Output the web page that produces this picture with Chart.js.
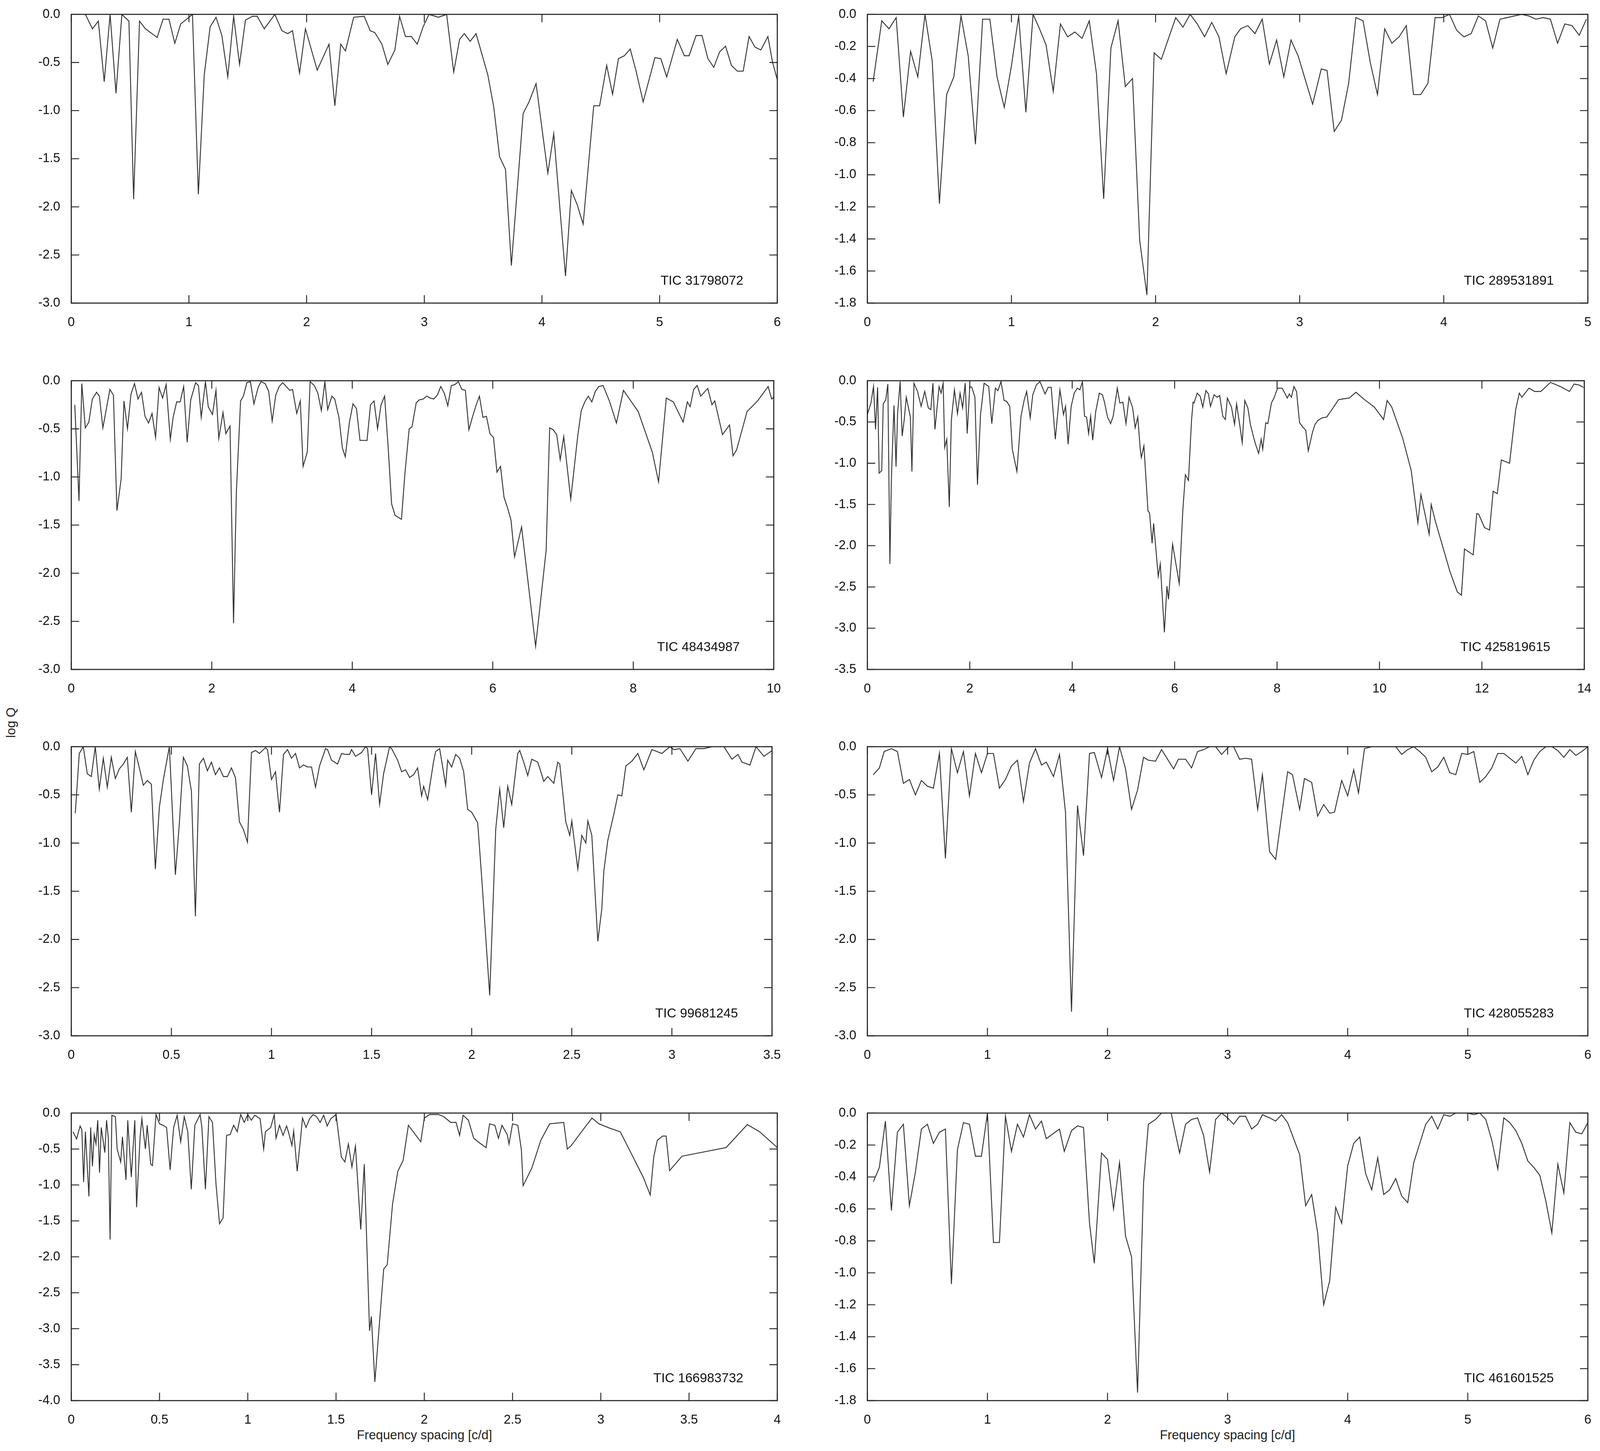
<!DOCTYPE html>
<html>
<head>
<meta charset="utf-8">
<script src="https://cdn.jsdelivr.net/npm/chart.js@4.4.0/dist/chart.umd.min.js"></script>
<style>
  html, body { margin: 0; padding: 0; background: #fff; overflow: hidden; font-family: "Liberation Sans", Arial, sans-serif; }
  canvas { position: absolute; }
  .lbl { position: absolute; color: #222; white-space: nowrap; }
</style>
</head>
<body>
<script>
// TIC 31798072
const x1 = [0,0.12,0.18,0.23,0.28,0.33,0.38,0.43,0.49,0.53,0.58,0.63,0.73,0.78,0.83,0.88,0.93,1.03,1.08,1.13,1.18,1.23,1.28,1.33,1.38,1.43,1.48,1.54,1.58,1.64,1.73,1.79,1.84,1.88,1.94,1.99,2.09,2.19,2.24,2.29,2.33,2.40,2.49,2.54,2.58,2.64,2.69,2.75,2.79,2.84,2.89,2.94,2.99,3.04,3.12,3.19,3.25,3.30,3.34,3.39,3.44,3.54,3.59,3.64,3.69,3.74,3.84,3.89,3.95,4.05,4.10,4.20,4.25,4.30,4.35,4.44,4.49,4.55,4.60,4.65,4.70,4.75,4.80,4.86,4.96,5.01,5.06,5.15,5.21,5.25,5.31,5.36,5.41,5.46,5.51,5.56,5.61,5.66,5.71,5.76,5.81,5.86,5.92,5.96,6.0];
const y1 = [0,0,-0.15,-0.07,-0.70,0,-0.82,0,-0.07,-1.92,-0.07,-0.15,-0.24,-0.05,-0.05,-0.30,-0.10,0,-1.87,-0.63,-0.13,-0.03,-0.22,-0.65,-0.02,-0.52,-0.06,-0.02,-0.02,-0.15,0,-0.17,-0.20,-0.17,-0.61,-0.15,-0.58,-0.31,-0.95,-0.31,-0.38,-0.03,-0.02,-0.17,-0.19,-0.31,-0.52,-0.37,-0.02,-0.23,-0.23,-0.31,-0.13,0,-0.03,0,-0.60,-0.26,-0.20,-0.28,-0.20,-0.63,-0.96,-1.48,-1.61,-2.61,-1.03,-0.91,-0.72,-1.65,-1.24,-2.72,-1.83,-1.98,-2.18,-0.95,-0.95,-0.53,-0.83,-0.46,-0.43,-0.36,-0.59,-0.91,-0.45,-0.46,-0.65,-0.26,-0.43,-0.43,-0.22,-0.22,-0.46,-0.55,-0.39,-0.33,-0.53,-0.59,-0.59,-0.23,-0.34,-0.37,-0.23,-0.50,-0.68];

// TIC 289531891
const x2 = [0.04,0.10,0.15,0.20,0.25,0.30,0.35,0.40,0.45,0.50,0.55,0.60,0.65,0.70,0.75,0.80,0.85,0.90,0.95,1.00,1.05,1.10,1.15,1.19,1.24,1.29,1.34,1.39,1.44,1.49,1.54,1.59,1.64,1.69,1.74,1.79,1.84,1.89,1.94,1.99,2.04,2.09,2.14,2.19,2.24,2.29,2.34,2.39,2.44,2.49,2.55,2.59,2.64,2.69,2.74,2.79,2.84,2.89,2.94,2.99,3.04,3.09,3.15,3.19,3.24,3.29,3.34,3.39,3.44,3.49,3.54,3.59,3.64,3.69,3.74,3.79,3.84,3.89,3.94,3.99,4.04,4.09,4.14,4.19,4.24,4.29,4.34,4.39,4.44,4.49,4.54,4.59,4.64,4.69,4.74,4.79,4.84,4.89,4.94,4.99];
const y2 = [-0.42,-0.04,-0.09,-0.02,-0.64,-0.23,-0.39,0,-0.29,-1.18,-0.50,-0.39,-0.01,-0.26,-0.81,-0.03,-0.03,-0.39,-0.58,-0.32,-0.01,-0.61,0,-0.08,-0.19,-0.48,-0.06,-0.14,-0.11,-0.15,-0.04,-0.37,-1.15,-0.21,-0.04,-0.45,-0.40,-1.41,-1.75,-0.24,-0.28,-0.15,-0.02,-0.08,0,-0.06,-0.14,-0.05,-0.14,-0.37,-0.14,-0.09,-0.07,-0.12,-0.03,-0.31,-0.16,-0.39,-0.16,-0.26,-0.41,-0.56,-0.34,-0.35,-0.73,-0.66,-0.43,-0.02,-0.04,-0.30,-0.50,-0.09,-0.18,-0.14,-0.07,-0.50,-0.50,-0.43,-0.02,-0.02,0,-0.10,-0.14,-0.12,-0.01,-0.04,-0.21,-0.03,-0.02,-0.01,0,-0.01,-0.03,-0.02,-0.03,-0.18,-0.06,-0.07,-0.13,-0.03];

// TIC 48434987
const x3 = [0.05,0.11,0.15,0.20,0.25,0.30,0.36,0.40,0.45,0.55,0.60,0.65,0.71,0.75,0.80,0.85,0.90,0.95,1.00,1.05,1.10,1.15,1.20,1.25,1.30,1.35,1.41,1.45,1.50,1.55,1.60,1.65,1.70,1.77,1.81,1.85,1.91,1.95,2.01,2.06,2.10,2.16,2.20,2.26,2.31,2.35,2.41,2.45,2.50,2.55,2.60,2.66,2.70,2.76,2.81,2.86,2.91,2.96,3.01,3.06,3.11,3.15,3.21,3.26,3.30,3.36,3.40,3.46,3.51,3.56,3.61,3.65,3.71,3.75,3.81,3.86,3.90,3.96,4.01,4.06,4.11,4.16,4.21,4.26,4.31,4.36,4.41,4.46,4.51,4.56,4.61,4.70,4.75,4.81,4.85,4.91,4.95,5.01,5.06,5.11,5.16,5.21,5.26,5.31,5.36,5.41,5.46,5.51,5.56,5.61,5.66,5.71,5.76,5.81,5.86,5.91,5.96,6.01,6.06,6.11,6.16,6.21,6.26,6.31,6.41,6.61,6.76,6.81,6.86,6.91,6.96,7.01,7.11,7.16,7.21,7.26,7.31,7.36,7.41,7.46,7.51,7.57,7.66,7.76,7.86,8.07,8.27,8.36,8.47,8.57,8.71,8.77,8.81,8.86,8.91,8.96,9.06,9.12,9.16,9.27,9.37,9.42,9.47,9.62,9.77,9.92,9.97,10];
const y3 = [-0.25,-1.25,-0.03,-0.49,-0.43,-0.19,-0.12,-0.16,-0.49,-0.09,-0.15,-1.35,-1.02,-0.21,-0.50,-0.14,-0.03,-0.19,-0.12,-0.37,-0.44,-0.34,-0.59,-0.07,-0.18,-0.04,-0.61,-0.38,-0.22,-0.22,-0.06,-0.64,-0.20,-0.02,-0.05,-0.38,-0.01,-0.27,-0.35,-0.10,-0.60,-0.33,-0.55,-0.47,-2.52,-1.16,-0.21,-0.16,-0.02,-0.01,-0.24,-0.07,-0.01,-0.03,-0.11,-0.42,-0.15,-0.06,-0.02,-0.06,-0.10,-0.09,-0.34,-0.21,-0.89,-0.74,-0.01,-0.05,-0.13,-0.31,-0.01,-0.30,-0.16,-0.19,-0.38,-0.70,-0.79,-0.43,-0.24,-0.29,-0.62,-0.62,-0.62,-0.25,-0.21,-0.50,-0.25,-0.16,-0.68,-1.28,-1.40,-1.44,-0.96,-0.50,-0.48,-0.23,-0.20,-0.19,-0.16,-0.18,-0.19,-0.15,-0.06,-0.13,-0.26,-0.05,-0.04,-0.01,-0.09,-0.10,-0.51,-0.38,-0.26,-0.16,-0.38,-0.37,-0.55,-0.59,-0.95,-0.89,-1.21,-1.32,-1.45,-1.83,-1.52,-2.76,-1.76,-0.49,-0.51,-0.56,-0.82,-0.58,-1.23,-0.90,-0.57,-0.31,-0.22,-0.16,-0.22,-0.11,-0.06,-0.05,-0.21,-0.44,-0.10,-0.32,-0.74,-1.05,-0.18,-0.22,-0.43,-0.22,-0.27,-0.09,-0.05,-0.16,-0.08,-0.25,-0.21,-0.56,-0.46,-0.78,-0.72,-0.32,-0.21,-0.06,-0.19,-0.17];

// TIC 425819615
const x4 = [0,0.07,0.12,0.16,0.20,0.23,0.28,0.31,0.36,0.40,0.44,0.47,0.52,0.56,0.59,0.64,0.68,0.72,0.76,0.84,0.87,0.91,0.98,1.05,1.12,1.19,1.24,1.28,1.32,1.37,1.40,1.44,1.48,1.51,1.55,1.60,1.64,1.70,1.76,1.81,1.86,1.91,1.95,2.00,2.04,2.10,2.15,2.21,2.28,2.37,2.43,2.50,2.55,2.61,2.67,2.72,2.78,2.83,2.92,3.00,3.06,3.11,3.18,3.23,3.30,3.37,3.47,3.53,3.59,3.67,3.76,3.83,3.87,3.92,3.98,4.04,4.10,4.15,4.20,4.24,4.28,4.32,4.36,4.40,4.46,4.53,4.59,4.63,4.69,4.75,4.80,4.88,4.93,4.99,5.05,5.11,5.18,5.23,5.28,5.33,5.35,5.40,5.48,5.51,5.56,5.59,5.68,5.72,5.80,5.85,5.88,5.96,6.09,6.16,6.21,6.27,6.33,6.36,6.38,6.44,6.50,6.55,6.61,6.66,6.70,6.77,6.83,6.88,6.94,6.99,7.03,7.11,7.17,7.21,7.27,7.32,7.37,7.43,7.48,7.54,7.58,7.64,7.69,7.72,7.78,7.82,7.89,7.94,8.01,8.10,8.20,8.24,8.28,8.33,8.38,8.44,8.50,8.56,8.61,8.69,8.74,8.80,8.88,8.97,9.06,9.20,9.29,9.41,9.54,9.71,9.90,10.08,10.15,10.24,10.45,10.62,10.75,10.81,10.97,11.01,11.09,11.38,11.52,11.60,11.66,11.83,11.90,11.94,12.05,12.15,12.22,12.30,12.38,12.54,12.66,12.73,12.78,12.92,13.03,13.15,13.34,13.53,13.71,13.80,13.89,13.98];
const y4 = [-0.41,-0.27,-0.07,-0.59,-0.08,-1.12,-1.09,-0.28,-0.23,-0.04,-2.22,-1.17,-0.30,-1.04,-0.40,-0.01,-0.67,-0.47,-0.20,-0.44,-1.10,-0.03,-0.13,-0.31,-0.13,-0.33,-0.35,-0.03,-0.59,-0.27,-0.07,-0.15,-0.03,-0.81,-0.71,-1.53,-0.48,-0.11,-0.40,-0.15,-0.33,-0.03,-0.64,-0.07,-0.08,-0.20,-1.26,-0.41,-0.03,-0.07,-0.52,-0.09,-0.12,-0.01,-0.24,-0.25,-0.31,-0.83,-1.10,-0.43,-0.24,-0.13,-0.45,-0.17,-0.05,-0.01,-0.16,-0.08,-0.08,-0.71,-0.11,-0.41,-0.31,-0.77,-0.31,-0.15,-0.09,-0.11,-0.01,-0.43,-0.44,-0.64,-0.43,-0.72,-0.37,-0.15,-0.17,-0.26,-0.44,-0.52,-0.43,-0.09,-0.27,-0.26,-0.52,-0.20,-0.33,-0.57,-0.44,-0.84,-0.93,-0.79,-1.58,-1.60,-1.97,-1.73,-2.37,-2.22,-3.05,-2.49,-2.65,-1.98,-2.46,-1.57,-1.14,-1.21,-0.48,-0.26,-0.27,-0.15,-0.19,-0.32,-0.12,-0.16,-0.31,-0.17,-0.20,-0.18,-0.43,-0.47,-0.21,-0.32,-0.53,-0.28,-0.53,-0.75,-0.24,-0.33,-0.53,-0.68,-0.77,-0.88,-0.71,-0.83,-0.51,-0.52,-0.27,-0.21,-0.09,-0.09,-0.21,-0.16,-0.20,-0.07,-0.13,-0.51,-0.56,-0.60,-0.85,-0.63,-0.53,-0.48,-0.45,-0.44,-0.36,-0.23,-0.22,-0.21,-0.14,-0.23,-0.32,-0.47,-0.24,-0.32,-0.69,-1.09,-1.72,-1.38,-1.86,-1.50,-1.70,-2.32,-2.56,-2.60,-2.04,-2.11,-1.61,-1.62,-1.78,-1.81,-1.34,-1.37,-0.96,-1.00,-0.35,-0.15,-0.20,-0.09,-0.13,-0.13,-0.02,-0.07,-0.13,-0.04,-0.05,-0.08];

// TIC 99681245
const x5 = [0.02,0.04,0.06,0.08,0.10,0.12,0.14,0.16,0.18,0.20,0.22,0.24,0.26,0.28,0.30,0.32,0.34,0.36,0.38,0.40,0.42,0.44,0.46,0.49,0.52,0.54,0.56,0.58,0.60,0.62,0.64,0.66,0.68,0.70,0.72,0.74,0.76,0.78,0.80,0.82,0.84,0.86,0.88,0.90,0.92,0.94,0.97,0.98,1.00,1.02,1.04,1.06,1.08,1.10,1.12,1.14,1.16,1.18,1.20,1.22,1.24,1.27,1.28,1.30,1.33,1.35,1.37,1.39,1.40,1.42,1.45,1.47,1.48,1.50,1.52,1.54,1.56,1.59,1.60,1.63,1.65,1.67,1.69,1.71,1.73,1.75,1.76,1.78,1.81,1.82,1.84,1.87,1.88,1.90,1.92,1.94,1.96,1.98,2.00,2.03,2.05,2.09,2.12,2.14,2.16,2.18,2.20,2.23,2.24,2.26,2.28,2.30,2.33,2.35,2.36,2.38,2.41,2.43,2.44,2.47,2.49,2.50,2.53,2.55,2.57,2.58,2.60,2.63,2.65,2.66,2.68,2.71,2.73,2.75,2.77,2.80,2.83,2.86,2.90,2.95,2.99,3.01,3.04,3.08,3.12,3.16,3.20,3.26,3.30,3.33,3.35,3.39,3.42,3.46,3.5];
const y5 = [-0.69,-0.07,0,-0.28,-0.31,0,-0.44,-0.12,-0.42,-0.11,-0.33,-0.23,-0.18,-0.11,-0.68,-0.05,-0.22,-0.40,-0.35,-0.39,-1.27,-0.63,-0.34,0,-1.33,-0.79,-0.11,-0.20,-0.46,-1.76,-0.18,-0.12,-0.25,-0.16,-0.29,-0.22,-0.31,-0.31,-0.22,-0.32,-0.78,-0.86,-0.99,-0.06,-0.04,-0.07,-0.01,-0.03,-0.34,-0.26,-0.68,-0.08,-0.03,-0.12,-0.07,-0.22,-0.19,-0.21,-0.21,-0.42,-0.20,-0.02,-0.03,-0.14,-0.18,-0.07,-0.08,-0.08,-0.03,-0.10,-0.06,0,-0.02,-0.50,-0.07,-0.60,-0.28,0,-0.02,-0.14,-0.26,-0.24,-0.32,-0.29,-0.22,-0.51,-0.41,-0.55,-0.15,-0.05,-0.02,-0.40,-0.14,-0.21,-0.08,-0.12,-0.26,-0.65,-0.68,-0.79,-1.36,-2.58,-0.86,-0.44,-0.84,-0.41,-0.60,-0.07,-0.04,-0.16,-0.30,-0.13,-0.16,-0.29,-0.36,-0.31,-0.38,-0.16,-0.18,-0.78,-0.92,-0.77,-1.27,-0.92,-1.00,-0.77,-0.92,-2.02,-1.68,-1.29,-0.97,-0.70,-0.50,-0.51,-0.20,-0.15,-0.07,-0.24,-0.03,-0.07,0,-0.03,-0.02,-0.15,-0.02,-0.02,0,0,-0.13,-0.08,-0.16,-0.19,0,-0.10,-0.04];

// TIC 428055283
const x6 = [0.05,0.10,0.14,0.20,0.25,0.30,0.35,0.40,0.45,0.50,0.55,0.60,0.65,0.70,0.75,0.80,0.85,0.90,0.95,1.00,1.05,1.10,1.15,1.20,1.25,1.30,1.35,1.40,1.45,1.49,1.55,1.60,1.65,1.70,1.75,1.80,1.85,1.89,1.95,2.00,2.05,2.10,2.15,2.20,2.25,2.30,2.34,2.40,2.45,2.50,2.55,2.59,2.65,2.70,2.75,2.80,2.85,2.90,2.95,3.01,3.05,3.10,3.15,3.20,3.25,3.29,3.35,3.40,3.50,3.54,3.60,3.64,3.70,3.75,3.80,3.85,3.89,3.95,4.00,4.05,4.09,4.14,4.20,4.40,4.45,4.50,4.55,4.60,4.65,4.70,4.75,4.80,4.85,4.90,4.95,5.00,5.05,5.10,5.15,5.20,5.25,5.30,5.35,5.40,5.45,5.50,5.55,5.60,5.65,5.70,5.75,5.80,5.85,5.90,5.95,6];
const y6 = [-0.29,-0.22,-0.05,-0.02,-0.05,-0.38,-0.34,-0.50,-0.35,-0.41,-0.43,-0.07,-1.16,-0.02,-0.27,-0.05,-0.51,-0.07,-0.27,-0.07,-0.07,-0.43,-0.34,-0.20,-0.14,-0.57,-0.17,-0.02,-0.19,-0.16,-0.31,-0.08,-0.68,-2.75,-0.61,-1.13,-0.07,-0.06,-0.32,-0.02,-0.35,0,-0.23,-0.65,-0.45,-0.11,-0.14,-0.15,-0.03,-0.13,-0.23,-0.13,-0.13,-0.22,-0.05,-0.03,0,0,-0.08,0,0,-0.13,-0.12,-0.13,-0.65,-0.29,-1.09,-1.17,-0.26,-0.29,-0.65,-0.33,-0.37,-0.72,-0.60,-0.69,-0.68,-0.35,-0.51,-0.24,-0.48,-0.02,0,0,-0.08,-0.03,0,-0.05,-0.11,-0.26,-0.21,-0.11,-0.27,-0.29,-0.07,-0.08,-0.05,-0.37,-0.31,-0.22,-0.07,-0.07,-0.12,-0.17,-0.10,-0.29,-0.14,-0.05,0,0,-0.04,-0.11,-0.03,-0.09,-0.05,0];

// TIC 166983732
const x7 = [0.01,0.03,0.05,0.06,0.07,0.08,0.10,0.11,0.12,0.13,0.14,0.15,0.16,0.17,0.19,0.20,0.21,0.22,0.23,0.25,0.26,0.28,0.29,0.31,0.32,0.34,0.36,0.37,0.39,0.40,0.42,0.43,0.45,0.46,0.48,0.50,0.52,0.54,0.56,0.58,0.60,0.62,0.64,0.66,0.68,0.70,0.73,0.74,0.76,0.78,0.80,0.82,0.84,0.86,0.88,0.90,0.92,0.94,0.96,0.98,1.00,1.02,1.04,1.07,1.09,1.10,1.13,1.15,1.16,1.18,1.20,1.22,1.23,1.25,1.26,1.28,1.30,1.31,1.33,1.35,1.37,1.39,1.41,1.43,1.45,1.47,1.50,1.53,1.55,1.57,1.59,1.61,1.64,1.66,1.69,1.70,1.72,1.74,1.77,1.79,1.82,1.85,1.88,1.91,1.98,2.00,2.03,2.08,2.11,2.15,2.18,2.20,2.22,2.25,2.28,2.31,2.35,2.37,2.40,2.42,2.44,2.47,2.48,2.50,2.53,2.55,2.56,2.61,2.66,2.71,2.79,2.81,2.83,2.90,2.95,2.99,3.05,3.11,3.17,3.24,3.28,3.30,3.32,3.35,3.37,3.39,3.46,3.71,3.83,3.90,4];
const y7 = [-0.26,-0.36,-0.18,-0.23,-0.96,-0.26,-1.16,-0.20,-0.74,-0.30,-0.43,-0.10,-0.83,-0.20,-0.55,-0.10,-0.35,-1.76,-0.03,-0.05,-0.50,-0.68,-0.33,-0.93,-0.10,-0.89,-0.10,-1.31,-0.33,-0.08,-0.50,-0.17,-0.71,-0.73,-0.02,-0.15,-0.17,-0.20,-0.79,-0.20,-0.03,-0.40,-0.05,-0.26,-1.06,-0.17,-0.02,-0.20,-1.06,-0.05,-0.13,-0.99,-1.54,-1.46,-0.31,-0.30,-0.17,-0.26,-0.02,-0.13,-0.02,-0.10,-0.03,-0.08,-0.50,-0.26,-0.20,-0.02,-0.35,-0.17,-0.31,-0.18,-0.26,-0.45,-0.25,-0.81,-0.33,-0.07,-0.20,-0.08,-0.02,-0.05,-0.13,-0.03,-0.18,-0.08,-0.02,-0.61,-0.68,-0.43,-0.75,-0.46,-1.62,-0.71,-3.03,-2.83,-3.74,-3.11,-2.17,-2.11,-1.27,-0.81,-0.66,-0.17,-0.40,-0.07,-0.02,-0.02,-0.05,-0.13,-0.13,-0.31,-0.03,-0.10,-0.35,-0.41,-0.48,-0.15,-0.17,-0.35,-0.17,-0.30,-0.43,-0.15,-0.17,-0.51,-1.01,-0.76,-0.38,-0.15,-0.13,-0.50,-0.46,-0.23,-0.07,-0.15,-0.21,-0.26,-0.55,-0.89,-1.14,-0.61,-0.38,-0.32,-0.32,-0.80,-0.60,-0.48,-0.16,-0.26,-0.48];

// TIC 461601525
const x8 = [0.05,0.10,0.15,0.20,0.25,0.30,0.35,0.40,0.45,0.50,0.55,0.60,0.65,0.70,0.75,0.80,0.85,0.90,0.95,1.00,1.05,1.10,1.15,1.20,1.25,1.30,1.35,1.40,1.45,1.49,1.60,1.64,1.70,1.75,1.80,1.85,1.89,1.95,2.00,2.05,2.10,2.15,2.20,2.25,2.30,2.34,2.40,2.45,2.53,2.60,2.65,2.70,2.75,2.80,2.85,2.90,2.95,3.00,3.05,3.10,3.15,3.20,3.25,3.29,3.35,3.40,3.45,3.50,3.55,3.60,3.65,3.70,3.75,3.80,3.85,3.90,3.95,4.00,4.05,4.10,4.15,4.20,4.25,4.30,4.35,4.40,4.45,4.50,4.55,4.60,4.65,4.70,4.75,4.80,4.85,4.90,5.00,5.05,5.10,5.15,5.20,5.25,5.30,5.35,5.40,5.45,5.50,5.55,5.60,5.65,5.70,5.75,5.80,5.85,5.90,5.95,6];
const y8 = [-0.43,-0.34,-0.05,-0.61,-0.12,-0.07,-0.58,-0.37,-0.10,-0.07,-0.19,-0.12,-0.10,-1.07,-0.23,-0.06,-0.07,-0.27,-0.27,0,-0.81,-0.81,-0.02,-0.24,-0.07,-0.15,-0.01,-0.10,-0.05,-0.16,-0.10,-0.24,-0.11,-0.08,-0.09,-0.69,-0.94,-0.25,-0.29,-0.60,-0.31,-0.77,-0.90,-1.75,-0.44,-0.07,-0.04,0,0,-0.25,-0.07,-0.04,-0.03,-0.14,-0.37,-0.04,0,-0.03,-0.07,-0.02,-0.02,-0.10,-0.07,-0.01,-0.03,-0.05,-0.01,-0.06,-0.16,-0.26,-0.58,-0.51,-0.75,-1.20,-1.05,-0.59,-0.69,-0.33,-0.19,-0.15,-0.38,-0.48,-0.28,-0.51,-0.48,-0.41,-0.52,-0.56,-0.31,-0.19,-0.07,-0.02,-0.10,-0.01,-0.02,0,0,-0.01,0,-0.04,-0.17,-0.35,-0.03,-0.06,-0.11,-0.19,-0.30,-0.34,-0.39,-0.55,-0.75,-0.32,-0.50,-0.06,-0.12,-0.13,-0.06];

const names = ['TIC 31798072','TIC 289531891','TIC 48434987','TIC 425819615','TIC 99681245','TIC 428055283','TIC 166983732','TIC 461601525'];
const xMax = [6, 5, 10, 14, 3.5, 6, 4, 6];
const xStep = [1, 1, 2, 2, 0.5, 1, 0.5, 1];
const yMin = [-3, -1.8, -3, -3.5, -3, -3, -4, -1.8];
const yStep = [0.5, 0.2, 0.5, 0.5, 0.5, 0.5, 0.5, 0.2];
const xs = [x1, x2, x3, x4, x5, x6, x7, x8];
const ys = [y1, y2, y3, y4, y5, y6, y7, y8];

// layout is written in reference pixels (5270 x 3715) and scaled to fill the real viewport
const SX = window.innerWidth / 5270;
const SY = window.innerHeight / 3715;
const S = SX;
const colLeft = [235, 2857], colWidth = [2326, 2373];
const rowTop = [27, 965, 1902, 2840], rowBottom = [776, 1714, 2652, 3586];
const PADL = 200, PADT = 30, PADR = 40, PADB = 110;
const FONT = '"Liberation Sans", Arial, sans-serif';

function addLabel(text, x, y, rotate) {
  const d = document.createElement('div');
  d.className = 'lbl';
  d.textContent = text;
  d.style.fontSize = (42 * S) + 'px';
  d.style.left = (x * SX) + 'px';
  d.style.top = (y * SY) + 'px';
  d.style.transform = 'translate(-50%,-50%)' + (rotate ? ' rotate(-90deg)' : '');
  document.body.appendChild(d);
}
addLabel('log Q', 36, 1850, true);
addLabel('Frequency spacing [c/d]', 1398, 3674, false);
addLabel('Frequency spacing [c/d]', 4043, 3674, false);

const frame = {
  id: 'frame',
  afterDraw(chart, args, opts) {
    const { ctx, chartArea: a } = chart;
    const sx = chart.scales.x, sy = chart.scales.y;
    const tl = 26 * S;
    ctx.save();
    ctx.strokeStyle = '#222';
    ctx.lineWidth = 3 * S;
    ctx.beginPath();
    sx.ticks.forEach(t => {
      const p = sx.getPixelForValue(t.value);
      ctx.moveTo(p, a.bottom); ctx.lineTo(p, a.bottom - tl);
      ctx.moveTo(p, a.top); ctx.lineTo(p, a.top + tl);
    });
    sy.ticks.forEach(t => {
      const p = sy.getPixelForValue(t.value);
      ctx.moveTo(a.left, p); ctx.lineTo(a.left + tl, p);
      ctx.moveTo(a.right, p); ctx.lineTo(a.right - tl, p);
    });
    ctx.stroke();
    ctx.lineWidth = 3.5 * S;
    ctx.strokeRect(a.left, a.top, a.right - a.left, a.bottom - a.top);
    ctx.fillStyle = '#111';
    ctx.font = (43 * S) + 'px ' + FONT;
    ctx.textAlign = 'right';
    ctx.textBaseline = 'alphabetic';
    ctx.fillText(opts.label, a.right - 112 * SX, a.bottom - 47 * SY);
    ctx.restore();
  }
};

for (let i = 0; i < 8; i++) {
  const col = i % 2, row = Math.floor(i / 2);
  const cv = document.createElement('canvas');
  const w = (colWidth[col] + PADL + PADR) * SX;
  const h = (rowBottom[row] - rowTop[row] + PADT + PADB) * SY;
  cv.width = Math.round(w); cv.height = Math.round(h);
  cv.style.left = ((colLeft[col] - PADL) * SX) + 'px';
  cv.style.top = ((rowTop[row] - PADT) * SY) + 'px';
  document.body.appendChild(cv);

  new Chart(cv.getContext('2d'), {
    type: 'line',
    data: {
      datasets: [{
        data: xs[i].map((x, k) => ({ x: x, y: ys[i][k] })),
        borderColor: '#333',
        borderWidth: 3 * S,
        pointRadius: 0,
        tension: 0,
        fill: false
      }]
    },
    options: {
      responsive: false,
      animation: false,
      layout: { padding: { top: PADT * SY, right: PADR * SX, left: 0, bottom: 0 } },
      plugins: { legend: { display: false }, tooltip: { enabled: false }, frame: { label: names[i] } },
      scales: {
        x: {
          type: 'linear', min: 0, max: xMax[i],
          grid: { display: false }, border: { display: false },
          ticks: { stepSize: xStep[i], padding: 22 * SY, color: '#111', font: { size: 42 * S, family: FONT },
                   maxRotation: 0, callback: v => String(+v.toFixed(2)) },
          afterFit: s => { s.height = PADB * SY; }
        },
        y: {
          min: yMin[i], max: 0,
          grid: { display: false }, border: { display: false },
          ticks: { stepSize: yStep[i], padding: 26 * SX, color: '#111', font: { size: 42 * S, family: FONT },
                   callback: v => v.toFixed(1) },
          afterFit: s => { s.width = PADL * SX; }
        }
      }
    },
    plugins: [frame]
  });
}
</script>
</body>
</html>
